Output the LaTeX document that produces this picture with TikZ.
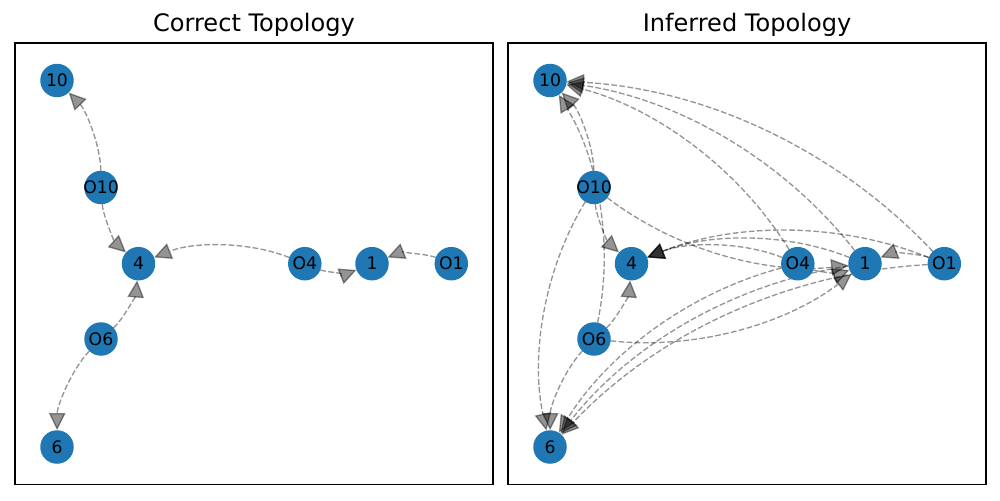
\documentclass[tikz,border=0pt]{standalone}
\usepackage{fontspec}
\setmainfont{DejaVu Sans}
\usetikzlibrary{calc,arrows.meta}
\definecolor{nodeblue}{HTML}{1F77B4}
\pgfdeclarelayer{edgelayer}
\pgfsetlayers{edgelayer,main}
\newcommand{\qedge}[2]{%
  \path ($(#1)!0.5!(#2)$) coordinate (qm);
  \path ($(qm)!0.4!-90:(#2)$) coordinate (qc);
  \path ($(#1)!0.6667!(qc)$) coordinate (qa);
  \path ($(#2)!0.6667!(qc)$) coordinate (qb);
  \draw[edge] (#1) .. controls (qa) and (qb) .. (#2);}
\newcommand{\vlab}[1]{\makebox[0pt][c]{#1}}
\begin{document}
\begin{tikzpicture}[x=0.02cm,y=-0.02cm,
  vtx/.style={circle,fill=nodeblue,minimum size=0.67cm,inner sep=0pt,outer sep=0pt,
    font=\fontsize{9.8}{11}\selectfont},
  edge/.style={draw=black,opacity=0.42,line width=0.75pt,
    dash pattern=on 3.2pt off 1.4pt,
    -{Triangle[length=9.8pt,width=9.4pt]}},
  frame/.style={draw=black,line width=0.6pt},
  ttl/.style={anchor=base,inner sep=0pt,font=\fontsize{13.7}{15}\selectfont}]
\useasboundingbox (0,0) rectangle (1000,500);
% frames
\draw[frame] (15,43) rectangle (493,484.5);
\draw[frame] (508,43) rectangle (986,484.5);
% titles
\node[ttl] (t1) at (254,31.3) {Correct Topology};
\node[ttl] (t2) at (747,31.3) {Inferred Topology};
% left nodes
\node[vtx] (L10)  at (57,80.5)    {\vlab{10}};
\node[vtx] (LO10) at (101,187.5)  {\vlab{O10}};
\node[vtx] (L4)   at (138.5,263.7){\vlab{4}};
\node[vtx] (LO4)  at (304.8,263.7){\vlab{O4}};
\node[vtx] (L1)   at (372,263.7)  {\vlab{1}};
\node[vtx] (LO1)  at (451.3,263.7){\vlab{O1}};
\node[vtx] (LO6)  at (101,339)    {\vlab{O6}};
\node[vtx] (L6)   at (57,447)     {\vlab{6}};
% right nodes
\node[vtx] (R10)  at (550,80.5)   {\vlab{10}};
\node[vtx] (RO10) at (594,187.5)  {\vlab{O10}};
\node[vtx] (R4)   at (631.5,263.7){\vlab{4}};
\node[vtx] (RO4)  at (797.8,263.7){\vlab{O4}};
\node[vtx] (R1)   at (865,263.7)  {\vlab{1}};
\node[vtx] (RO1)  at (944.3,263.7){\vlab{O1}};
\node[vtx] (RO6)  at (594,339)    {\vlab{O6}};
\node[vtx] (R6)   at (550,447)    {\vlab{6}};
\begin{pgfonlayer}{edgelayer}
% left edges
\qedge{LO10}{L10}
\qedge{LO10}{L4}
\qedge{LO4}{L4}
\qedge{LO4}{L1}
\qedge{LO1}{L1}
\qedge{LO6}{L4}
\qedge{LO6}{L6}
% right edges
\qedge{RO10}{R10}
\qedge{RO10}{R4}
\qedge{RO10}{R1}
\qedge{RO10}{R6}
\qedge{RO6}{R10}
\qedge{RO6}{R4}
\qedge{RO6}{R1}
\qedge{RO6}{R6}
\qedge{RO4}{R10}
\qedge{RO4}{R4}
\qedge{RO4}{R1}
\qedge{RO4}{R6}
\qedge{RO1}{R10}
\qedge{RO1}{R4}
\qedge{RO1}{R1}
\qedge{RO1}{R6}
\qedge{R1}{R10}
\qedge{R1}{R4}
\qedge{R1}{R6}
\end{pgfonlayer}
\end{tikzpicture}
\end{document}
